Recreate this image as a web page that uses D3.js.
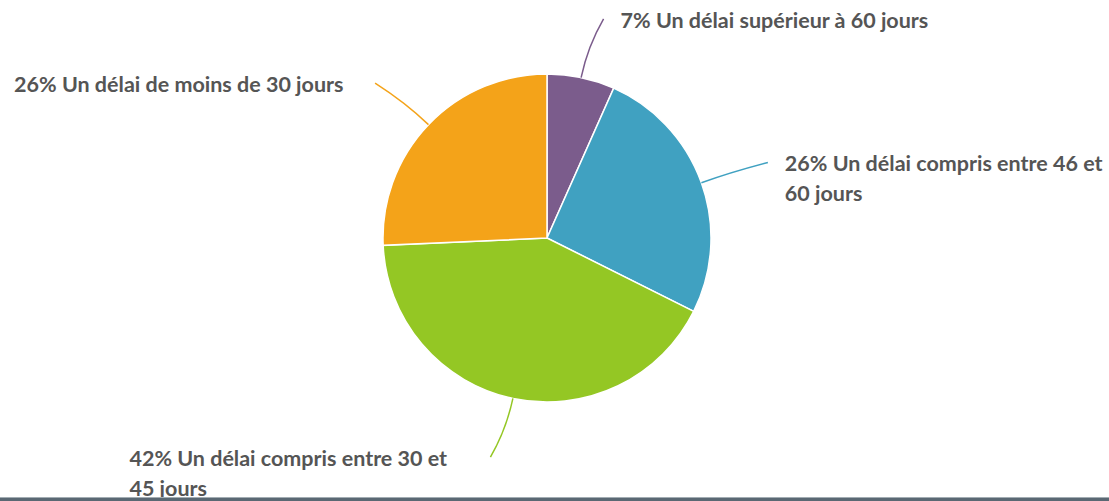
<!DOCTYPE html>
<meta charset="utf-8">
<title>Délai</title>
<style>
body { margin: 0; background: #fff; }
.label { font: 700 21.5px Lato, "Open Sans", sans-serif; fill: #555; }
</style>
<svg width="1109" height="501"></svg>
<script src="https://d3js.org/d3.v7.min.js"></script>
<script>

// data (counts giving 7/26/42/26 %)
var categories = ["Un délai supérieur à 60 jours", "Un délai compris entre 46 et 60 jours",
                  "Un délai compris entre 30 et 45 jours", "Un délai de moins de 30 jours"];
var values = [7, 27, 44, 27];
var percents = ["7%", "26%", "42%", "26%"];
var colors = ["#7b5c8c", "#40a1c1", "#94c724", "#f4a319"];

var svg = d3.select("svg"),
    cx = 547, cy = 238,
    radius = 164,
    boxW = 346;

var g = svg.append("g").attr("transform", "translate(" + cx + "," + cy + ")");

var pie = d3.pie().sort(null).value(function(d) { return d; });
var arc = d3.arc().innerRadius(0).outerRadius(radius);
var arcs = pie(values);

g.selectAll("path.slice")
  .data(arcs)
  .enter().append("path")
    .attr("class", "slice")
    .attr("d", arc)
    .style("fill", function(d, i) { return colors[i]; })
    .style("stroke", "#fff")
    .style("stroke-width", 1.5);

function pt(a, r) { return [Math.sin(a) * r, -Math.cos(a) * r]; }

arcs.forEach(function(d, i) {
  var mid = (d.startAngle + d.endAngle) / 2,
      right = Math.sin(mid) >= 0,
      p0 = pt(mid, radius),
      p1 = pt(mid, radius + 32),
      p2 = pt(mid, radius + 60);
  p2[0] += right ? 10 : -10;

  g.append("path")
    .attr("d", "M" + p0 + "Q" + p1 + " " + p2)
    .style("fill", "none")
    .style("stroke", colors[i])
    .style("stroke-width", 1.5);

  var tx = right ? p2[0] + 17 : p2[0] - 15 - boxW;
  var text = g.append("text")
    .attr("class", "label")
    .attr("x", tx)
    .attr("y", p2[1] + 9);

  // simple word wrap inside the label box
  var words = (percents[i] + " " + categories[i]).split(" "),
      line = [],
      tspan = text.append("tspan").attr("x", tx).attr("dy", 0);
  words.forEach(function(w) {
    line.push(w);
    tspan.text(line.join(" "));
    if (tspan.node().getComputedTextLength() > 340 && line.length > 1) {
      line.pop();
      tspan.text(line.join(" "));
      line = [w];
      tspan = text.append("tspan").attr("x", tx).attr("dy", 30).text(w);
    }
  });
});

// bottom rule
svg.append("rect").attr("x", 0).attr("y", 497).attr("width", 1109).attr("height", 1).style("fill", "#a3adb3");
svg.append("rect").attr("x", 0).attr("y", 498).attr("width", 1109).attr("height", 3).style("fill", "#5a6873");

</script>
